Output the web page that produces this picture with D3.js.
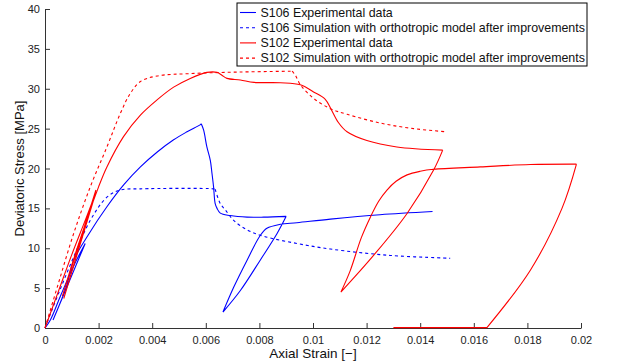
<!DOCTYPE html>
<html>
<head>
<meta charset="utf-8">
<script src="https://cdn.jsdelivr.net/npm/d3@7"></script>
<style>
  body { margin: 0; background: #fff; }
  text { font-family: "Liberation Sans", Arial, sans-serif; }
</style>
</head>
<body>
<div id="chart"></div>
<script>
// series names for the legend
var seriesNames = [
    "S106 Experimental data",
    "S106 Simulation with orthotropic model after improvements",
    "S102 Experimental data",
    "S102 Simulation with orthotropic model after improvements"
];

// tick values and labels
var xTicks = [0, 0.002, 0.004, 0.006, 0.008, 0.01, 0.012, 0.014, 0.016, 0.018, 0.02];
var xTickLabels = ["0", "0.002", "0.004", "0.006", "0.008", "0.01", "0.012", "0.014", "0.016", "0.018", "0.02"];
var yTicks = [0, 5, 10, 15, 20, 25, 30, 35, 40];

// S106 experimental [strain, stress]
var s106Exp = [
    [0, 0], [0.0002, 1.0], [0.0006, 4.2], [0.0011, 8.0], [0.0015, 10.6],
    [0.0003, 1.0], [0.0008, 5.2], [0.00107, 8.5], [0.0016, 11.6], [0.00231, 15.2],
    [0.00295, 18.0], [0.00356, 20.2], [0.0042, 22.1], [0.0048, 23.6], [0.0053, 24.6],
    [0.0058, 25.5], [0.00583, 25.6], [0.00592, 24.8], [0.00604, 22.7], [0.00617, 21.0],
    [0.00623, 19.4], [0.00629, 17.7], [0.00635, 15.6], [0.00642, 15.0], [0.00654, 14.4],
    [0.00691, 14.1], [0.00754, 13.9], [0.00816, 13.9], [0.0090, 14.0],
    [0.00866, 11.85], [0.00803, 8.5], [0.00729, 4.7], [0.00664, 2.0],
    [0.00704, 5.1], [0.00754, 8.5], [0.00803, 11.6], [0.00828, 12.5], [0.00878, 13.0],
    [0.0094, 13.2], [0.01065, 13.65], [0.0125, 14.2], [0.01446, 14.6]
];

// S106 simulation
var s106Sim = [
    [0, 0], [0.0005, 4.3], [0.00107, 8.9], [0.00169, 13.5], [0.00231, 16.4],
    [0.00281, 17.3], [0.00356, 17.45], [0.00629, 17.45], [0.00635, 17.4],
    [0.00654, 15.6], [0.00673, 14.8], [0.00704, 13.5], [0.00754, 12.3],
    [0.00816, 11.5], [0.0094, 10.6], [0.01065, 9.9], [0.01288, 9.1], [0.01512, 8.75]
];

// S102 experimental
var s102Exp = [
    [0, 0], [0.0005, 4.6], [0.001, 9.2], [0.0015, 13.5], [0.0019, 17.0],
    [0.0007, 3.7], [0.0013, 10.5], [0.0019, 17.3], [0.00065, 4.0], [0.0012, 10.0],
    [0.002, 17.7], [0.00231, 20.2], [0.00293, 24.0], [0.00356, 26.7], [0.00418, 28.6],
    [0.0048, 30.2], [0.00542, 31.3], [0.00604, 32.05], [0.00642, 32.05], [0.0066, 31.7],
    [0.00679, 31.3], [0.00729, 31.1], [0.0078, 30.8], [0.00878, 30.75], [0.00953, 30.5],
    [0.01002, 29.6], [0.01045, 28.7], [0.01068, 27.4], [0.01094, 25.8], [0.01127, 24.6],
    [0.01201, 23.5], [0.01313, 22.7], [0.01484, 22.3],
    [0.0145, 19.8], [0.01351, 14.36], [0.01226, 9.1], [0.01104, 4.5],
    [0.01139, 7.2], [0.0118, 11.3], [0.01214, 13.9], [0.01245, 15.9], [0.01276, 17.3],
    [0.0131, 18.4], [0.01351, 19.2], [0.014, 19.65], [0.0145, 19.9],
    [0.01624, 20.2], [0.01811, 20.5], [0.01983, 20.55],
    [0.01929, 15.0], [0.01811, 7.25], [0.01649, 0.05], [0.013, 0.05]
];

// S102 simulation
var s102Sim = [
    [0, 0], [0.0005, 5.6], [0.00107, 11.85], [0.00169, 17.7], [0.00231, 22.7],
    [0.00281, 26.9], [0.00318, 29.4], [0.00356, 30.9], [0.00418, 31.6], [0.00542, 31.9],
    [0.00729, 32.1], [0.00922, 32.2], [0.00934, 31.7], [0.00953, 30.5], [0.01002, 28.8],
    [0.01065, 27.5], [0.01127, 26.8], [0.01251, 25.7], [0.01375, 25.0], [0.015, 24.6]
];

var series = [
    {data: s106Exp, color: "#0000ff", dash: null},
    {data: s106Sim, color: "#0000ff", dash: "3,3"},
    {data: s102Exp, color: "#ff0000", dash: null},
    {data: s102Sim, color: "#ff0000", dash: "3,3"}
];

var W = 617, H = 362;
var margin = {top: 9, right: 36, bottom: 34, left: 45},
    width = W - margin.left - margin.right,
    height = H - margin.top - margin.bottom;

var x = d3.scaleLinear().domain([0, 0.02]).range([0, width]);
var y = d3.scaleLinear().domain([0, 40]).range([height, 0]);

var svg = d3.select("#chart").append("svg")
    .attr("width", W)
    .attr("height", H);

var g = svg.append("g")
    .attr("transform", "translate(" + margin.left + "," + margin.top + ")");

var line = d3.line()
    .curve(d3.curveCatmullRom.alpha(0.5))
    .x(function(d) { return x(d[0]); })
    .y(function(d) { return y(d[1]); });

// split a curve at its sharp corners (load/unload tips) so the spline
// does not overshoot there; smooth parts stay one piece
function splitAtCorners(data) {
    var pieces = [], cur = [data[0]];
    for (var i = 1; i < data.length; i++) {
        cur.push(data[i]);
        if (i < data.length - 1) {
            var ax = x(data[i][0]) - x(data[i - 1][0]), ay = y(data[i][1]) - y(data[i - 1][1]);
            var bx = x(data[i + 1][0]) - x(data[i][0]), by = y(data[i + 1][1]) - y(data[i][1]);
            var cos = (ax * bx + ay * by) / (Math.hypot(ax, ay) * Math.hypot(bx, by));
            if (cos < 0.7) {
                pieces.push(cur);
                cur = [data[i]];
            }
        }
    }
    pieces.push(cur);
    return pieces;
}

// axes (ticks point inward)
var xAxis = g.append("g")
    .attr("transform", "translate(0," + height + ")")
    .call(d3.axisBottom(x).tickValues(xTicks).tickSizeInner(-5).tickSizeOuter(0)
        .tickPadding(9)
        .tickFormat(function(d, i) { return xTickLabels[i]; }));

var yAxis = g.append("g")
    .call(d3.axisLeft(y).tickValues(yTicks).tickSizeInner(-5).tickSizeOuter(0)
        .tickPadding(9));

[xAxis, yAxis].forEach(function(a) {
    a.selectAll("path, line").attr("stroke", "#333");
    a.selectAll("text").attr("fill", "#222").style("font-size", "11px")
        .style("font-family", "'Liberation Sans', Arial, sans-serif");
});
xAxis.selectAll("text").attr("dy", "0.6em");
yAxis.selectAll("text").attr("dx", "4px");

// curves, drawn over the axes
series.forEach(function(s) {
    var d = splitAtCorners(s.data).map(function(p) { return line(p); }).join("");
    g.append("path")
        .attr("fill", "none")
        .attr("stroke", s.color)
        .attr("stroke-width", 1.1)
        .attr("stroke-dasharray", s.dash)
        .attr("stroke-linejoin", "round")
        .attr("d", d);
});

// axis labels
g.append("text")
    .attr("x", width / 2)
    .attr("y", height + 30)
    .attr("text-anchor", "middle")
    .style("font-size", "13.5px")
    .attr("fill", "#111")
    .text("Axial Strain [\u2212]");

g.append("text")
    .attr("transform", "rotate(-90)")
    .attr("x", -height / 2)
    .attr("y", -21)
    .attr("text-anchor", "middle")
    .style("font-size", "13px")
    .attr("fill", "#111")
    .text("Deviatoric Stress [MPa]");

// legend
var legend = svg.append("g").attr("transform", "translate(237,3)");
legend.append("rect")
    .attr("width", 350)
    .attr("height", 63)
    .attr("fill", "#fff")
    .attr("stroke", "#000")
    .attr("stroke-width", 1);

seriesNames.forEach(function(name, i) {
    var yy = 9.5 + i * 15.2;
    legend.append("line")
        .attr("x1", 3).attr("x2", 19)
        .attr("y1", yy).attr("y2", yy)
        .attr("stroke", series[i].color)
        .attr("stroke-width", 1.1)
        .attr("stroke-dasharray", series[i].dash);
    legend.append("text")
        .attr("x", 23.5)
        .attr("y", yy + 4)
        .style("font-size", "12.4px")
        .attr("fill", "#111")
        .text(name);
});
</script>
</body>
</html>
